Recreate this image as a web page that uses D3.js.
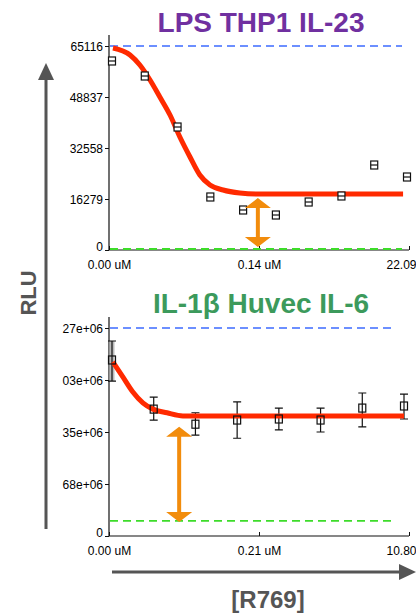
<!DOCTYPE html>
<html lang="en">
<head>
<meta charset="UTF-8">
<title>R769 dose response</title>
<script src="https://d3js.org/d3.v7.min.js"></script>
<style>
  body { margin: 0; background: #fff; }
  svg { font-family: "Liberation Sans", Arial, sans-serif; }
  .tick text { font-size: 12px; fill: #000; }
  .fit { fill: none; stroke: #ff2a00; stroke-width: 5; stroke-linejoin: round; }
  .marker { fill: #fff; stroke: #111; stroke-width: 1.2; }
  .err { stroke: #111; stroke-width: 1.2; fill: none; }
</style>
</head>
<body>
<script>
// ---- top panel: LPS THP1 IL-23 ----
var topTicks = [0, 16279, 32558, 48837, 65116];
var topXLabels = ["0.00 uM", "0.14 uM", "22.09"];
var topPoints = [60330, 55540, 39260, 16920, 12770, 11170, 15320, 17240, 27130, 23300];
var topCurveX = [0.03, 0.55, 0.85, 1.16, 1.46, 1.77, 2.07, 2.38, 2.68, 2.99, 3.39, 3.90, 4.42, 8.88];
var topCurveY = [64480, 62240, 59050, 54260, 48840, 43090, 36070, 29690, 23940, 20750, 19150, 18190, 17875, 17875];
var topMax = 65116, topMin = 0;
var topArrow = {x: 4.45, from: 16600, to: 960};

// ---- bottom panel: IL-1b Huvec IL-6 (values in tick units) ----
var botTicks = [0, 1, 2, 3, 4];
var botTickLabels = ["0", "68e+06", "35e+06", "03e+06", "27e+06"];
var botXLabels = ["0.00 uM", "0.21 uM", "10.80"];
var botPoints = [3.385, 2.44, 2.15, 2.23, 2.25, 2.23, 2.46, 2.50];
var botErrLo = [2.98, 2.23, 1.94, 1.88, 2.04, 2.00, 2.10, 2.25];
var botErrHi = [3.75, 2.67, 2.37, 2.58, 2.46, 2.46, 2.75, 2.73];
var botCurveX = [0.02, 0.26, 0.50, 0.74, 0.98, 1.32, 1.70, 7.0];
var botCurveY = [3.35, 3.06, 2.77, 2.56, 2.44, 2.37, 2.31, 2.31];
var botMax = 4, botMin = 0.27;
var botArrow = {x: 1.61, from: 2.10, to: 0.27};

var W = 416, H = 615;
var svg = d3.select("body").append("svg").attr("width", W).attr("height", H);

function panel(o) {
  var g = svg.append("g");
  var x = d3.scaleLinear().domain([0, o.n - 1]).range([112, o.xEnd]);
  var xa = d3.scaleLinear().domain([0, 1]).range([109, 409]);
  var y = d3.scaleLinear().domain(o.yDomain).range(o.yRange);

  // y axis
  g.append("line").attr("x1", 109).attr("x2", 109)
    .attr("y1", y(o.yDomain[0])).attr("y2", y(o.yDomain[1]) - 11)
    .attr("stroke", "#111").attr("stroke-width", 1.2);
  var ya = g.append("g").attr("transform", "translate(109,0)")
    .call(d3.axisLeft(y).tickValues(o.ticks).tickSize(4).tickPadding(2)
      .tickFormat(function(d, i) { return o.tickLabels ? o.tickLabels[i] : d; }));
  ya.select(".domain").remove();
  ya.selectAll(".tick line").attr("stroke", "#111");
  ya.selectAll(".tick text").attr("dy", function(d) { return d === 0 ? "0.05em" : "0.38em"; });

  // x axis
  var xg = g.append("g").attr("transform", "translate(0," + y(o.yDomain[0]) + ")")
    .call(d3.axisBottom(xa).tickValues([0, 0.5, 1]).tickSize(-4).tickPadding(10)
      .tickFormat(function(d, i) { return o.xLabels[i]; }));
  xg.select(".domain").attr("d", "M109,0H409").attr("stroke", "#111").attr("stroke-width", 1.2);
  xg.selectAll(".tick line").attr("stroke", "#111");
  xg.selectAll(".tick text").attr("dx", function(d) { return d === 1 ? "-8" : "0"; });

  // reference lines
  g.append("line").attr("x1", 110).attr("x2", o.dashEnd)
    .attr("y1", y(o.maxLine)).attr("y2", y(o.maxLine))
    .attr("stroke", "#3d6bff").attr("stroke-width", 1.6).attr("stroke-dasharray", "8,5");
  g.append("line").attr("x1", 110).attr("x2", o.dashEnd)
    .attr("y1", y(o.minLine) - 1).attr("y2", y(o.minLine) - 1)
    .attr("stroke", "#3ddc2a").attr("stroke-width", 1.8).attr("stroke-dasharray", "8,5");

  // error bars
  if (o.lo) {
    g.append("rect").attr("x", 109.5).attr("width", 5)
      .attr("y", y(o.hi[0])).attr("height", y(o.lo[0]) - y(o.hi[0]))
      .attr("fill", "#bbb");
    o.points.forEach(function(v, i) {
      var cx = x(i);
      g.append("path").attr("class", "err")
        .attr("d", "M" + cx + "," + y(o.lo[i]) + "V" + y(o.hi[i]) +
          "M" + (cx - 4) + "," + y(o.lo[i]) + "H" + (cx + 4) +
          "M" + (cx - 4) + "," + y(o.hi[i]) + "H" + (cx + 4));
    });
  }

  // fit curve
  var line = d3.line().x(function(d) { return x(d[0]); }).y(function(d) { return y(d[1]); })
    .curve(d3.curveMonotoneX);
  g.append("path").attr("class", "fit").datum(d3.zip(o.curveX, o.curveY)).attr("d", line);

  // markers
  o.points.forEach(function(v, i) {
    var cx = x(i), cy = y(v);
    g.append("rect").attr("class", "marker")
      .attr("x", cx - 3.5).attr("y", cy - 4).attr("width", 7).attr("height", 8)
      .attr("fill-opacity", o.lo ? 0 : 1);
    if (!o.lo) {
      g.append("line").attr("class", "err").attr("x1", cx - 3.5).attr("x2", cx + 3.5)
        .attr("y1", cy).attr("y2", cy);
    }
  });

  // orange double arrow
  var ax = x(o.arrow.x), ay1 = y(o.arrow.from), ay2 = y(o.arrow.to);
  g.append("line").attr("x1", ax).attr("x2", ax).attr("y1", ay1 + 8).attr("y2", ay2 - 8)
    .attr("stroke", "#f28c0c").attr("stroke-width", 4);
  g.append("path").attr("fill", "#f28c0c")
    .attr("d", "M" + ax + "," + ay1 + "L" + (ax + 13) + "," + (ay1 + 10) + "L" + (ax - 13) + "," + (ay1 + 10) + "Z" +
      "M" + ax + "," + ay2 + "L" + (ax + 13) + "," + (ay2 - 10) + "L" + (ax - 13) + "," + (ay2 - 10) + "Z");

  // title
  g.append("text").attr("x", 261).attr("y", o.titleY).attr("text-anchor", "middle")
    .attr("font-size", 28).attr("font-weight", "bold").attr("fill", o.titleColor)
    .text(o.title);
}

panel({
  n: topPoints.length, xEnd: 407, yDomain: [0, 65116], yRange: [250, 46],
  ticks: topTicks, xLabels: topXLabels, points: topPoints,
  curveX: topCurveX, curveY: topCurveY, maxLine: topMax, minLine: topMin,
  dashEnd: 402, arrow: topArrow, title: "LPS THP1 IL-23", titleColor: "#7030a0", titleY: 32
});

panel({
  n: botPoints.length, xEnd: 404, yDomain: [0, 4], yRange: [536, 328],
  ticks: botTicks, tickLabels: botTickLabels, xLabels: botXLabels, points: botPoints,
  lo: botErrLo, hi: botErrHi,
  curveX: botCurveX, curveY: botCurveY, maxLine: botMax, minLine: botMin,
  dashEnd: 395, arrow: botArrow, title: "IL-1\u03b2 Huvec IL-6", titleColor: "#3c9a5c", titleY: 313
});

// big axis arrows
var gray = "#555";
svg.append("line").attr("x1", 46).attr("x2", 46).attr("y1", 529).attr("y2", 78)
  .attr("stroke", gray).attr("stroke-width", 3);
svg.append("path").attr("fill", gray).attr("d", "M46,63L54,80L38,80Z");
svg.append("line").attr("x1", 112).attr("x2", 402).attr("y1", 572).attr("y2", 572)
  .attr("stroke", gray).attr("stroke-width", 3);
svg.append("path").attr("fill", gray).attr("d", "M416,572L399,564L399,580Z");

svg.append("text").attr("transform", "translate(36,293) rotate(-90)")
  .attr("text-anchor", "middle").attr("font-size", 22).attr("font-weight", "bold")
  .attr("fill", gray).text("RLU");
svg.append("text").attr("x", 268).attr("y", 608).attr("text-anchor", "middle")
  .attr("font-size", 24).attr("font-weight", "bold").attr("fill", gray).text("[R769]");
</script>
</body>
</html>
